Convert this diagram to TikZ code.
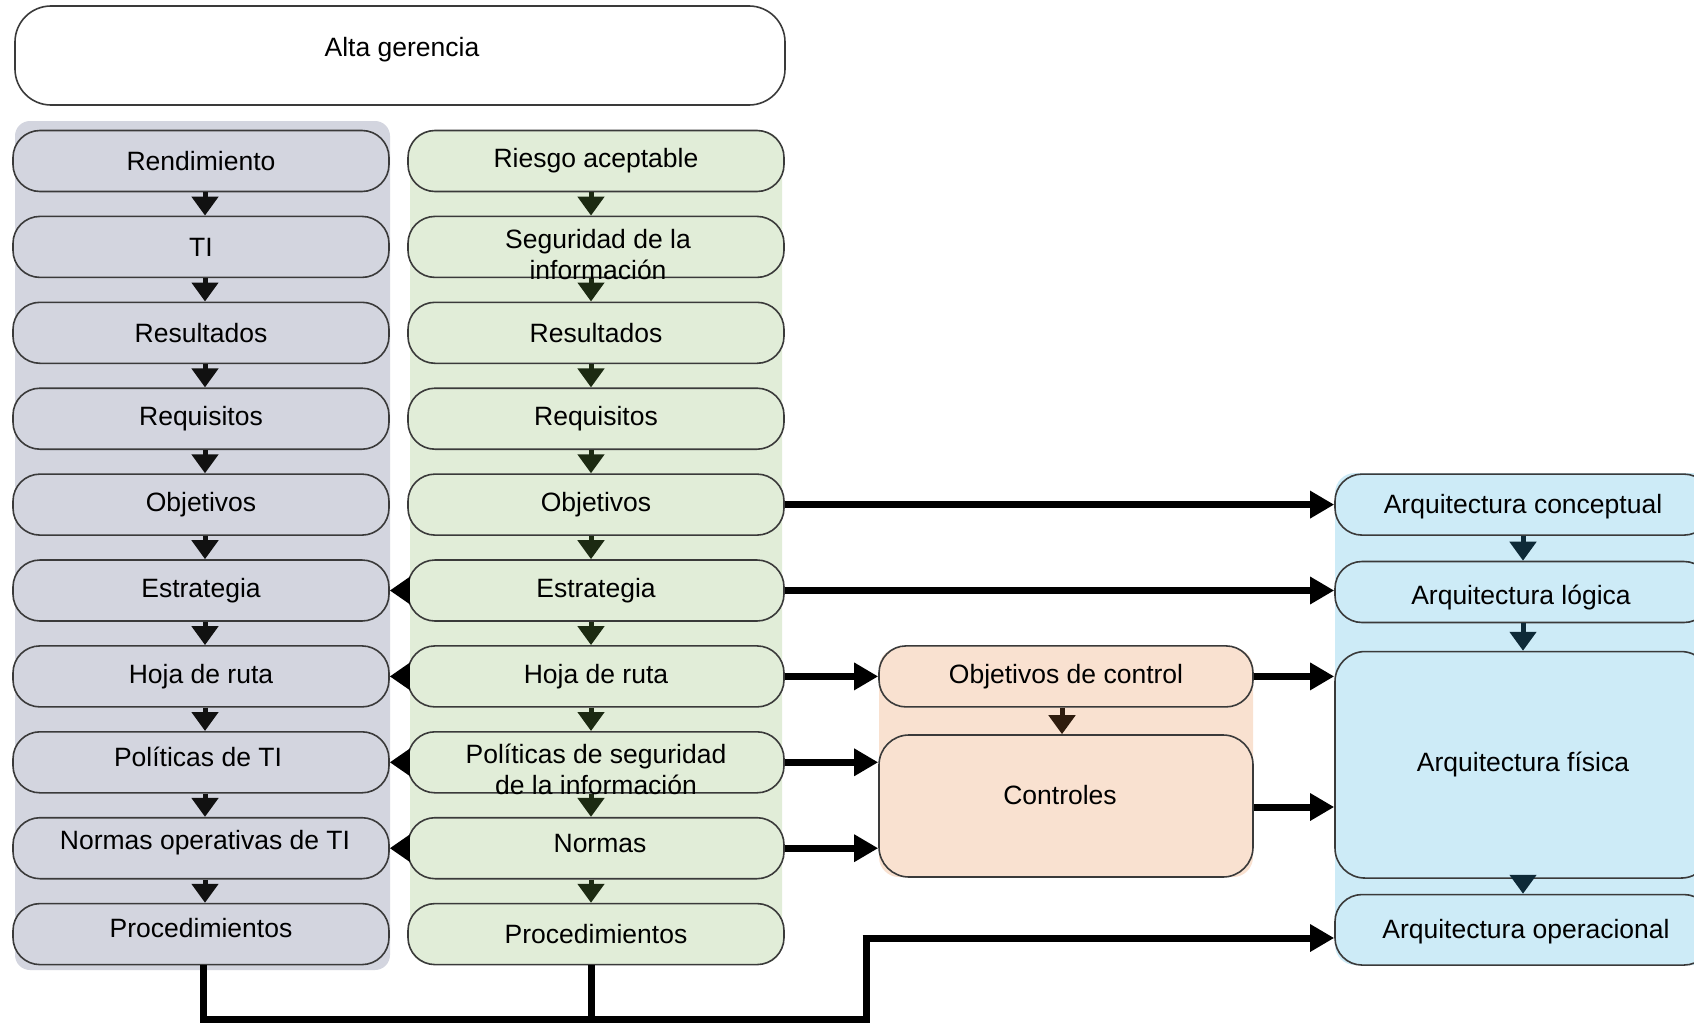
\documentclass[tikz,border=0pt]{standalone}
\usepackage{fontspec}
\setmainfont{Liberation Sans}
\usetikzlibrary{arrows.meta}
\definecolor{bggray}{HTML}{D3D5DF}
\definecolor{bggreen}{HTML}{E1EDD8}
\definecolor{bgorange}{HTML}{F9E1D0}
\definecolor{bgblue}{HTML}{CDEBF7}
\definecolor{boxline}{HTML}{3A3A3A}
\definecolor{arrgray}{HTML}{111111}
\definecolor{arrgreen}{HTML}{1C2A12}
\definecolor{arrorange}{HTML}{2E1C0E}
\definecolor{arrblue}{HTML}{0E2A38}
\begin{document}
\begin{tikzpicture}[x=1pt,y=-1pt,
  txt/.style={font=\fontsize{26.5}{31}\selectfont, align=center, inner sep=0pt},
  rowbox/.style={txt, draw=boxline, line width=1.6pt, rounded corners=27pt,
     minimum width=376pt, minimum height=61pt},
  bigbox/.style={txt, draw=boxline, line width=1.6pt, rounded corners=30pt,
     minimum width=376pt},
  bigarr/.style={line width=7pt, -{Triangle[length=24pt,width=26pt]}, black},
  bigline/.style={line width=7pt, black, line cap=butt, line join=miter},
  leftarr/.style={line width=7pt, -{Triangle[length=20pt,width=26pt]}, black},
  varr/.style={line width=5pt, -{Triangle[length=19pt,width=26pt]}},
]
\useasboundingbox (0,0) rectangle (1694,1025);
\clip (0,0) rectangle (1694,1025);
\fill[white] (0,0) rectangle (1694,1025);

% backgrounds
\fill[bggray, rounded corners=15pt] (15,121) rectangle (390,970);
\fill[bggreen, rounded corners=20pt] (410,131) rectangle (782,964);
\fill[bgorange, rounded corners=20pt] (879,648) rectangle (1253,877);
\fill[bgblue, rounded corners=20pt] (1335,473) rectangle (1720,965);

% top
\node[draw=boxline, line width=1.6pt, rounded corners=36pt, fill=white,
      minimum width=770pt, minimum height=99pt] (ag) at (400,55.5) {};
\node[txt] (agt) at (402,50) {Alta gerencia};

% gray column
\node[rowbox, fill=bggray] (p1) at (201,161) {Rendimiento};
\node[rowbox, fill=bggray] (p2) at (201,246.9) {TI};
\node[rowbox, fill=bggray] (p3) at (201,332.8) {Resultados};
\node[rowbox, fill=bggray] (p4) at (201,418.7) {Requisitos};
\node[rowbox, fill=bggray] (p5) at (201,504.6) {Objetivos};
\node[rowbox, fill=bggray] (p6) at (201,590.5) {Estrategia};
\node[rowbox, fill=bggray] (p7) at (201,676.4) {Hoja de ruta};
\node[rowbox, fill=bggray] (p8) at (201,762.3) {};
\node[rowbox, fill=bggray] (p9) at (201,848.2) {};
\node[rowbox, fill=bggray] (p10) at (201,934.1) {};
\node[txt] (p8t) at (198,757) {Políticas de TI};
\node[txt] (p9t) at (205,843) {Normas operativas de TI};
\node[txt] (p10t) at (201,928) {Procedimientos};

% green column
\node[rowbox, fill=bggreen] (g1) at (596,161) {Riesgo aceptable};
\node[rowbox, fill=bggreen] (g2) at (596,246.9) {};
\node[rowbox, fill=bggreen] (g3) at (596,332.8) {Resultados};
\node[rowbox, fill=bggreen] (g4) at (596,418.7) {Requisitos};
\node[rowbox, fill=bggreen] (g5) at (596,504.6) {Objetivos};
\node[rowbox, fill=bggreen] (g6) at (596,590.5) {Estrategia};
\node[rowbox, fill=bggreen] (g7) at (596,676.4) {Hoja de ruta};
\node[rowbox, fill=bggreen] (g8) at (596,762.3) {};
\node[rowbox, fill=bggreen] (g9) at (596,848.2) {};
\node[rowbox, fill=bggreen] (g10) at (596,934.1) {Procedimientos};
\node[txt] (g9t) at (600,844) {Normas};

% orange
\node[rowbox, fill=bgorange, minimum width=374pt] (oc) at (1066,676.4) {Objetivos de control};
\node[bigbox, fill=bgorange, minimum width=374pt, minimum height=142pt] (ct) at (1066,806) {};
\node[txt] (ctt) at (1060,795) {Controles};

% blue
\node[rowbox, fill=bgblue] (ac) at (1523,504.6) {};
\node[rowbox, fill=bgblue] (al) at (1523,592) {};
\node[bigbox, fill=bgblue, minimum height=226.5pt] (af) at (1523,764.8) {Arquitectura física};
\node[rowbox, fill=bgblue, minimum height=70.5pt] (ao) at (1523,929.8) {};
\node[txt] (act) at (1523,507) {Arquitectura conceptual};
\node[txt] (alt) at (1521,597) {Arquitectura lógica};
\node[txt] (aot) at (1526,932) {Arquitectura operacional};

% vertical arrows
\foreach \a/\b in {p1/p2,p2/p3,p3/p4,p4/p5,p5/p6,p6/p7,p7/p8,p8/p9,p9/p10}
  \draw[varr, arrgray] ([xshift=4pt]\a.south) -- ([xshift=4pt]\b.north);
\foreach \a/\b in {g1/g2,g2/g3,g3/g4,g4/g5,g5/g6,g6/g7,g7/g8,g8/g9,g9/g10}
  \draw[varr, arrgreen] ([xshift=-5pt]\a.south) -- ([xshift=-5pt]\b.north);
\draw[varr, arrorange] ([xshift=-4pt]oc.south) -- ([xshift=-4pt]ct.north);
\draw[varr, arrblue] (ac.south) -- (al.north);
\draw[varr, arrblue] (al.south) -- (af.north);
\draw[varr, arrblue] (af.south) -- (ao.north);

% texts overflowing their boxes
\node[txt] (g2t) at (598,255) {Seguridad de la\\información};
\node[txt] (g8t) at (596,769) {Políticas de seguridad\\de la información};

% left arrows
\foreach \g/\p in {g6/p6,g7/p7,g8/p8,g9/p9}
  \draw[leftarr] (\g.west) -- (\p.east);

% right arrows
\draw[bigarr] (g5.east) -- (ac.west);
\draw[bigarr] (g6.east) -- (g6.east -| al.west);
\draw[bigarr] (g7.east) -- (oc.west);
\draw[bigarr] (g8.east) -- (g8.east -| ct.west);
\draw[bigarr] (g9.east) -- (g9.east -| ct.west);
\draw[bigarr] (oc.east) -- (oc.east -| af.west);
\draw[bigarr] ([yshift=-1pt]ct.east) -- ([yshift=-1pt]ct.east -| af.west);

% bottom connector
\coordinate (jb) at (866,1019);
\coordinate (jc) at (866,938);
\draw[bigline] ([xshift=2pt]p10.south) -- ([xshift=2pt]p10.south |- jb) -- ([xshift=3.5pt]jb);
\draw[bigline] ([xshift=-5pt]g10.south) -- ([xshift=-5pt]g10.south |- jb);
\draw[bigline] (jb) -- ([yshift=-3.5pt]jc);
\draw[bigarr] ([xshift=-3.5pt]jc) -- (jc -| ao.west);
\end{tikzpicture}
\end{document}
